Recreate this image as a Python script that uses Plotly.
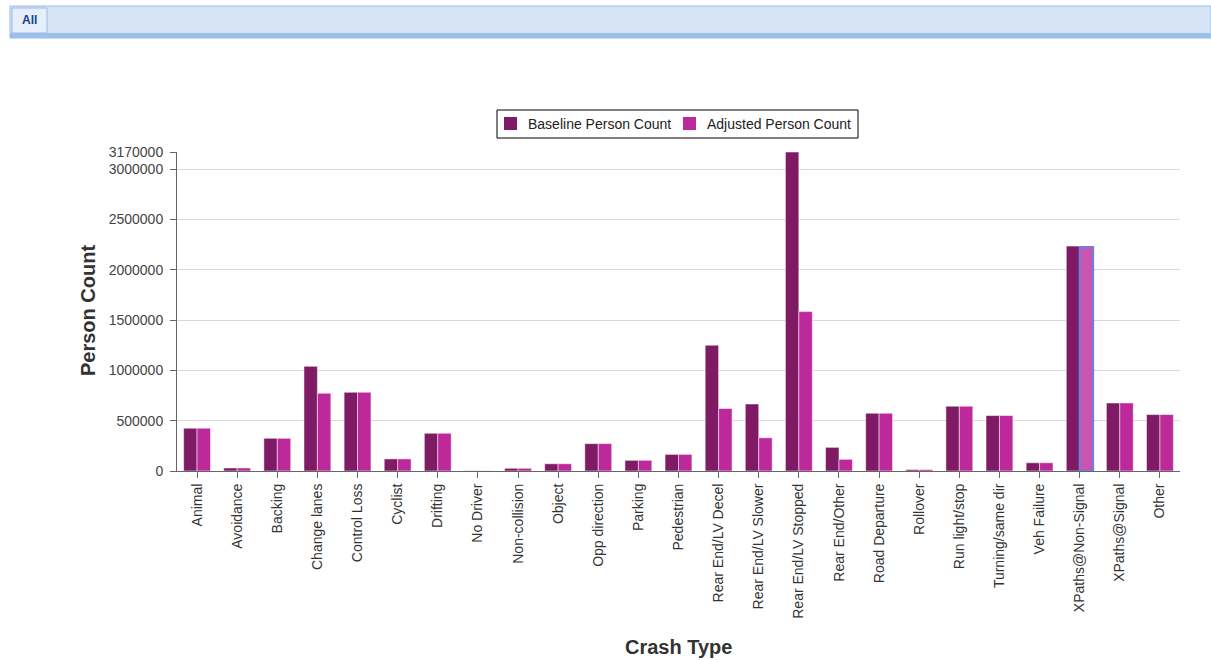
import plotly.graph_objects as go

crash_types = [
    "Animal", "Avoidance", "Backing", "Change lanes", "Control Loss", "Cyclist",
    "Drifting", "No Driver", "Non-collision", "Object", "Opp direction", "Parking",
    "Pedestrian", "Rear End/LV Decel", "Rear End/LV Slower", "Rear End/LV Stopped",
    "Rear End/Other", "Road Departure", "Rollover", "Run light/stop",
    "Turning/same dir", "Veh Failure", "XPaths@Non-Signal", "XPaths@Signal", "Other",
]
baseline_count = [
    425000, 30000, 325000, 1040000, 782000, 120000,
    375000, 2000, 27000, 72000, 272000, 106000,
    165000, 1250000, 666000, 3170000,
    235000, 574000, 14000, 644000,
    551000, 82000, 2235000, 676000, 561000,
]
adjusted_count = [
    425000, 30000, 325000, 772000, 782000, 120000,
    375000, 2000, 27000, 72000, 272000, 106000,
    165000, 621000, 330000, 1584000,
    116000, 574000, 14000, 644000,
    551000, 82000, 2225000, 676000, 561000,
]
y_ticks = [0, 500000, 1000000, 1500000, 2000000, 2500000, 3000000, 3170000]

W, H = 1211, 660
L, R, T, B = 177, 31, 152, 189
PW, PH = W - L - R, H - T - B
FONT = "Liberation Sans, Arial, sans-serif"


def px(x):
    return (x - L) / PW


def py(y):
    return (H - B - y) / PH


BASE_COLOR = "#7f1b64"
ADJ_COLOR = "#bd289b"
BASE_NAME = "Baseline Person Count"
ADJ_NAME = "Adjusted Person Count"

# the hovered bar keeps a lighter fill and a blue outline
adj_fill = [ADJ_COLOR] * len(crash_types)
adj_line = ["rgba(255,255,255,0.5)"] * len(crash_types)
adj_width = [1] * len(crash_types)
hi = crash_types.index("XPaths@Non-Signal")
adj_fill[hi] = "#c856ae"
adj_line[hi] = "#6e7fe0"
adj_width[hi] = 2

fig = go.Figure()
fig.add_trace(go.Bar(
    name=BASE_NAME, x=crash_types, y=baseline_count,
    marker=dict(color=BASE_COLOR, line=dict(color="rgba(255,255,255,0.5)", width=1)),
))
fig.add_trace(go.Bar(
    name=ADJ_NAME, x=crash_types, y=adjusted_count,
    marker=dict(color=adj_fill, line=dict(color=adj_line, width=adj_width)),
))


def rect(x0, y0, x1, y1, fill, line_color=None, line_width=0):
    return dict(type="rect", xref="paper", yref="paper",
                x0=px(x0), x1=px(x1), y0=py(y1), y1=py(y0),
                fillcolor=fill, layer="above",
                line=dict(color=line_color or fill, width=line_width))


def label(text, x, y, size, color, xanchor="center", angle=0):
    return dict(text=text, xref="paper", yref="paper", x=px(x), y=py(y),
                xanchor=xanchor, yanchor="middle", textangle=angle,
                showarrow=False, font=dict(family=FONT, size=size, color=color))


shapes = [
    # tab strip
    rect(10, 6, 1211, 38, "#d6e3f4", "#99bbe8", 1),
    rect(10, 33, 1211, 38, "#9ebfe9"),
    rect(12, 8, 47, 33, "#e6eefa", "#99bbe8", 1),
    # legend box and swatches
    rect(497, 110, 858, 138, "white", "#000000", 1),
    rect(504, 117, 517, 130, BASE_COLOR),
    rect(683, 117, 696, 130, ADJ_COLOR),
]

annotations = [
    label("<b>All</b>", 29, 20, 12, "#15428b"),
    label(BASE_NAME, 526, 124, 14, "#222222", xanchor="left"),
    label(ADJ_NAME, 705, 124, 14, "#222222", xanchor="left"),
    label("<b>Person Count</b>", 88, 311, 20, "#333333", angle=-90),
    label("<b>Crash Type</b>", 678, 647, 20, "#333333"),
]

fig.update_layout(
    width=W, height=H,
    margin=dict(l=L, r=R, t=T, b=B, pad=0),
    paper_bgcolor="white", plot_bgcolor="white",
    barmode="group", bargap=0.33, bargroupgap=0,
    font=dict(family=FONT, size=14, color="#444444"),
    showlegend=False,
    xaxis=dict(
        tickangle=-90, showgrid=False, showline=True, linecolor="#666666", linewidth=1,
        ticks="outside", ticklen=6, tickcolor="#666666",
        tickfont=dict(size=14, color="#333333"), fixedrange=True,
    ),
    yaxis=dict(
        range=[0, 3170000], tickvals=y_ticks, ticktext=[str(v) for v in y_ticks],
        showgrid=True, gridcolor="#d9d9d9", gridwidth=1,
        showline=True, linecolor="#666666", linewidth=1,
        ticks="outside", ticklen=6, tickcolor="#666666", ticklabelstandoff=4,
        tickfont=dict(size=14, color="#444444"), zeroline=False,
    ),
    shapes=shapes,
    annotations=annotations,
)

fig.write_html("out.html")
